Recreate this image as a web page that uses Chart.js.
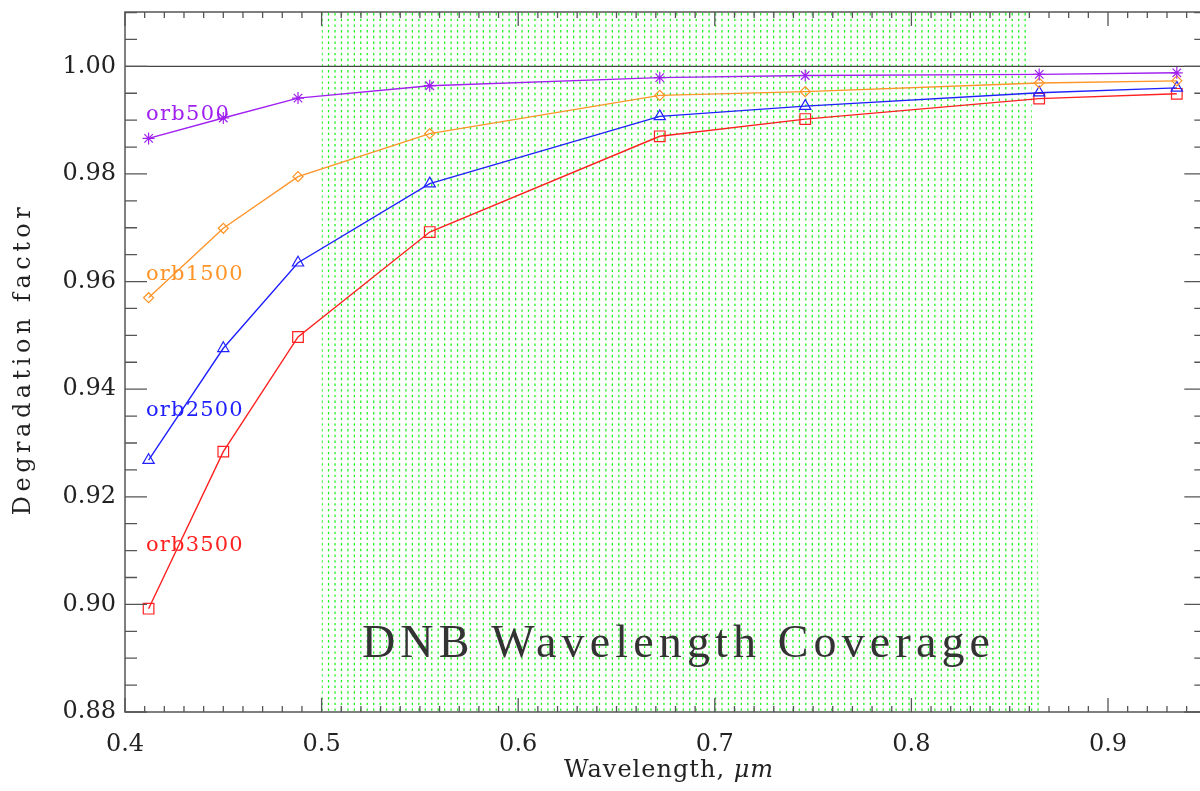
<!DOCTYPE html>
<html><head><meta charset="utf-8">
<script src="https://cdn.jsdelivr.net/npm/chart.js@4/dist/chart.umd.min.js"></script>
<style>html,body{margin:0;padding:0;background:#fff;overflow:hidden;width:1200px;height:791px}canvas{display:block}</style>
</head><body>
<canvas id="c" width="1215" height="791" style="width:1215px;height:791px"></canvas>
<script>
// ---- data ----
const wavelengths = [0.412, 0.450, 0.488, 0.555, 0.672, 0.746, 0.865, 0.935];
const orb500  = [0.9866, 0.9904, 0.9941, 0.9964, 0.9979, 0.9983, 0.9985, 0.9988];
const orb1500 = [0.9570, 0.9699, 0.9795, 0.9875, 0.9946, 0.9953, 0.9969, 0.9973];
const orb2500 = [0.9268, 0.9476, 0.9635, 0.9782, 0.9907, 0.9926, 0.9951, 0.9960];
const orb3500 = [0.8992, 0.9284, 0.9497, 0.9692, 0.9870, 0.9902, 0.9940, 0.9949];
const seriesNames = ['orb500', 'orb1500', 'orb2500', 'orb3500'];
const xTickValues = [0.4, 0.5, 0.6, 0.7, 0.8, 0.9];
const yTickValues = [0.88, 0.90, 0.92, 0.94, 0.96, 0.98, 1.00];
const dnbBand = [0.5, 0.865];
const referenceLevel = 1.00;
const bandText = 'DNB Wavelength Coverage';
const xTitle = 'Wavelength, ';
const xTitleUnit = '\u03BCm';
const yTitle = 'Degradation factor';

// ---- styling ----
const colors = ['#a020f0', '#ff9428', '#2020ff', '#ff2020'];
const markers = ['star', 'rectRot', 'triangle', 'rect'];
const markerRadius = [6, 5, 6.5, 7.5];
const labelAnchor = [[0.4107, 0.9901], [0.4107, 0.9602], [0.4107, 0.9351], [0.4107, 0.9100]];
const seriesValues = [orb500, orb1500, orb2500, orb3500];

const datasets = seriesNames.map((name, i) => ({
  label: name,
  data: wavelengths.map((w, j) => ({x: w, y: seriesValues[i][j]})),
  borderColor: colors[i],
  backgroundColor: 'rgba(0,0,0,0)',
  borderWidth: 1.4,
  pointStyle: markers[i],
  pointRadius: markerRadius[i],
  pointBorderWidth: 1.2,
  pointBorderColor: colors[i],
  pointBackgroundColor: 'rgba(0,0,0,0)',
  tension: 0,
  clip: false
}));

function fitText(ctx, text, target) {
  ctx.letterSpacing = '0px';
  const w = ctx.measureText(text).width;
  const ls = (target - w) / (text.length - 1);
  ctx.letterSpacing = ls.toFixed(2) + 'px';
}

const decor = {
  id: 'decor',
  beforeDatasetsDraw(chart) {
    const {ctx, chartArea: a, scales: {x, y}} = chart;
    ctx.save();
    const x0 = x.getPixelForValue(dnbBand[0]);
    const x1 = x.getPixelForValue(dnbBand[1]);
    ctx.beginPath();
    ctx.moveTo(x0, a.top); ctx.lineTo(x1 - 9, a.top); ctx.lineTo(x1 + 1, a.bottom); ctx.lineTo(x0, a.bottom);
    ctx.closePath(); ctx.clip();
    ctx.strokeStyle = 'rgba(20,240,20,0.95)';
    ctx.lineWidth = 1.3;
    ctx.setLineDash([2.4, 3.3]);
    for (let px = x0 + 0.5; px <= x1 + 2; px += 6.45) {
      ctx.beginPath(); ctx.moveTo(px, a.top + 1); ctx.lineTo(px, a.bottom); ctx.stroke();
    }
    ctx.restore();

    ctx.save();
    const yr = y.getPixelForValue(referenceLevel);
    ctx.strokeStyle = '#444'; ctx.lineWidth = 1.3;
    ctx.beginPath(); ctx.moveTo(a.left, yr); ctx.lineTo(a.right, yr); ctx.stroke();

    ctx.fillStyle = '#333';
    ctx.font = '46px "Liberation Serif"';
    fitText(ctx, bandText, 628);
    ctx.textAlign = 'left'; ctx.textBaseline = 'alphabetic';
    ctx.fillText(bandText, 362, 657);
    ctx.restore();
  },
  afterDatasetsDraw(chart) {
    const {ctx, scales: {x, y}} = chart;
    ctx.save();
    ctx.font = '21px "DejaVu Serif"';
    ctx.textAlign = 'left'; ctx.textBaseline = 'alphabetic';
    seriesNames.forEach((name, i) => {
      fitText(ctx, name, name.length * 13.8);
      ctx.fillStyle = colors[i];
      ctx.fillText(name, x.getPixelForValue(labelAnchor[i][0]), y.getPixelForValue(labelAnchor[i][1]));
    });
    ctx.restore();
  },
  afterDraw(chart) {
    const {ctx, chartArea: a, scales: {x, y}} = chart;
    ctx.save();
    ctx.strokeStyle = '#555'; ctx.lineWidth = 1.5;
    ctx.strokeRect(a.left, a.top, a.right - a.left, a.bottom - a.top);
    ctx.lineWidth = 1.3;
    ctx.beginPath();
    for (let k = 0; ; k++) {
      const v = y.min + k * 0.005;
      if (v > y.max + 1e-9) break;
      const py = y.getPixelForValue(v);
      const len = (k % 4 === 0) ? 22 : 12;
      ctx.moveTo(a.left, py); ctx.lineTo(a.left + len, py);
      ctx.moveTo(a.right, py); ctx.lineTo(a.right - len, py);
    }
    for (let k = 0; ; k++) {
      const v = x.min + k * 0.01;
      if (v > x.max + 1e-9) break;
      const px = x.getPixelForValue(v);
      const len = (k % 10 === 0) ? 14 : 6;
      ctx.moveTo(px, a.bottom); ctx.lineTo(px, a.bottom - len);
      ctx.moveTo(px, a.top); ctx.lineTo(px, a.top + len);
    }
    ctx.stroke();

    ctx.fillStyle = '#222';
    ctx.textBaseline = 'alphabetic';
    ctx.font = '24px "DejaVu Serif"';
    fitText(ctx, yTitle, 308);
    ctx.save();
    ctx.translate(30, 359);
    ctx.rotate(-Math.PI / 2);
    ctx.textAlign = 'center';
    ctx.fillText(yTitle, 0, 0);
    ctx.restore();

    ctx.font = '24px "DejaVu Serif"';
    ctx.letterSpacing = '1px';
    const w1 = ctx.measureText(xTitle).width;
    ctx.font = 'italic 24px "DejaVu Serif"';
    const w2 = ctx.measureText(xTitleUnit).width;
    const cx = 669;
    const start = cx - (w1 + w2) / 2;
    ctx.textAlign = 'left';
    ctx.font = '24px "DejaVu Serif"';
    ctx.fillText(xTitle, start, 777);
    ctx.font = 'italic 24px "DejaVu Serif"';
    ctx.fillText(xTitleUnit, start + w1, 777);
    ctx.restore();
  }
};

new Chart(document.getElementById('c'), {
  type: 'line',
  data: {datasets},
  options: {
    responsive: false,
    animation: false,
    layout: {padding: {top: 12, right: 5, left: 0, bottom: 0}},
    plugins: {legend: {display: false}, tooltip: {enabled: false}},
    scales: {
      x: {
        type: 'linear', min: 0.4, max: 0.95,
        grid: {display: false, drawTicks: false}, border: {display: false},
        afterBuildTicks: s => { s.ticks = xTickValues.map(v => ({value: v})); },
        afterFit: s => { s.height = 79; s.paddingLeft = 0; s.paddingRight = 0; },
        ticks: {font: {family: 'DejaVu Serif', size: 24}, color: '#222', padding: 18, maxRotation: 0,
                callback: v => Number(v).toFixed(1)}
      },
      y: {
        type: 'linear', min: 0.88, max: 1.0101,
        grid: {display: false, drawTicks: false}, border: {display: false},
        afterBuildTicks: s => { s.ticks = yTickValues.map(v => ({value: v})); },
        afterFit: s => { s.width = 125; s.paddingTop = 0; s.paddingBottom = 0; },
        ticks: {font: {family: 'DejaVu Serif', size: 24}, color: '#222', padding: 9,
                callback: v => Number(v).toFixed(2)}
      }
    }
  },
  plugins: [decor]
});
</script>
</body></html>
